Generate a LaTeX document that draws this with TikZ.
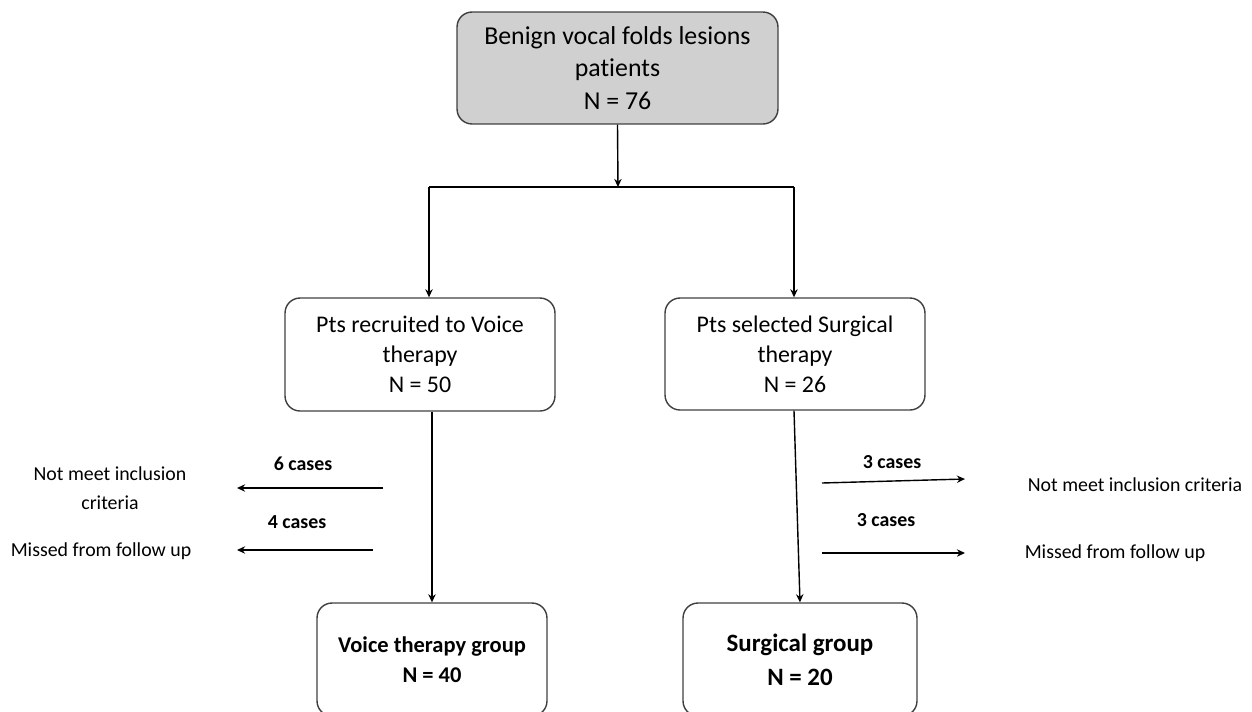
\documentclass[tikz,border=0pt]{standalone}
\usepackage{fontspec}
\setmainfont{Carlito}[Ligatures=NoCommon]
\usetikzlibrary{positioning,arrows.meta}
\definecolor{boxgray}{RGB}{208,208,208}
\definecolor{edgegray}{RGB}{64,64,64}

\begin{document}
\begin{tikzpicture}[x=0.02cm,y=-0.02cm,line width=0.8pt,>={Stealth[length=4.6pt,width=4.2pt]},box/.style={draw=edgegray,rounded corners=0.3cm,align=center,inner sep=0pt},side/.style={font=\fontsize{11.3}{16.4}\selectfont,align=center,inner sep=0pt},cnt/.style={font=\fontsize{11.3}{13}\selectfont\bfseries,inner sep=0pt}]
\useasboundingbox (0,0) rectangle (1252,711);
\clip (0,0) rectangle (1252,711);
% boxes
\node[box,fill=boxgray,minimum width=6.42cm,minimum height=2.24cm,font=\fontsize{14.7}{18.7}\selectfont] (top) at (617.5,68) {Benign vocal folds lesions\\patients\\N = 76};
\node[box,minimum width=5.4cm,minimum height=2.26cm,font=\fontsize{13.6}{17}\selectfont] (voice) at (420,354.5) {Pts recruited to Voice\\therapy\\N = 50};
\node[box,minimum width=5.2cm,minimum height=2.24cm,font=\fontsize{13.6}{17}\selectfont] (surg) at (795,354) {Pts selected Surgical\\therapy\\N = 26};
\node[box,minimum width=4.6cm,minimum height=2.26cm,font=\fontsize{12.8}{17}\selectfont\bfseries] (vgroup) at (432,659.5) {Voice therapy group\\N = 40};
\node[box,minimum width=4.68cm,minimum height=2.26cm,font=\fontsize{14.2}{19.3}\selectfont\bfseries] (sgroup) at (800,659.5) {Surgical group\\N = 20};
% split
\coordinate (split) at (618,187);
\coordinate (sl) at (429,187);
\coordinate (sr) at (794,187);
\draw[->] (top.south) -- (split);
\draw (sl) -- (sr);
\draw[->] (sl) -- (sl |- voice.north);
\draw[->] (sr) -- (sr |- surg.north);
\draw[->] (vgroup.north |- voice.south) -- (vgroup.north);
\draw[->] (sr |- surg.south) -- (sgroup.north);
% excluded
\node[side] (nmL) at (110,488) {Not meet inclusion\\criteria};
\node[side] (mfL) at (101,551) {Missed from follow up};
\node[side] (nmR) at (1135,485) {Not meet inclusion criteria};
\node[side] (mfR) at (1115,553) {Missed from follow up};
\node[cnt] (c6) at (303,464) {6 cases};
\node[cnt] (c4) at (297,522) {4 cases};
\node[cnt] (c3a) at (892,462) {3 cases};
\node[cnt] (c3b) at (886,520) {3 cases};
\coordinate (a6) at (383,488); \coordinate (b6) at (237,488);
\coordinate (a4) at (373,550); \coordinate (b4) at (237,550);
\coordinate (a3a) at (822,483); \coordinate (b3a) at (965,479);
\coordinate (a3b) at (822,553); \coordinate (b3b) at (965,553);
\draw[->] (a6) -- (b6);
\draw[->] (a4) -- (b4);
\draw[->] (a3a) -- (b3a);
\draw[->] (a3b) -- (b3b);
\end{tikzpicture}
\end{document}
